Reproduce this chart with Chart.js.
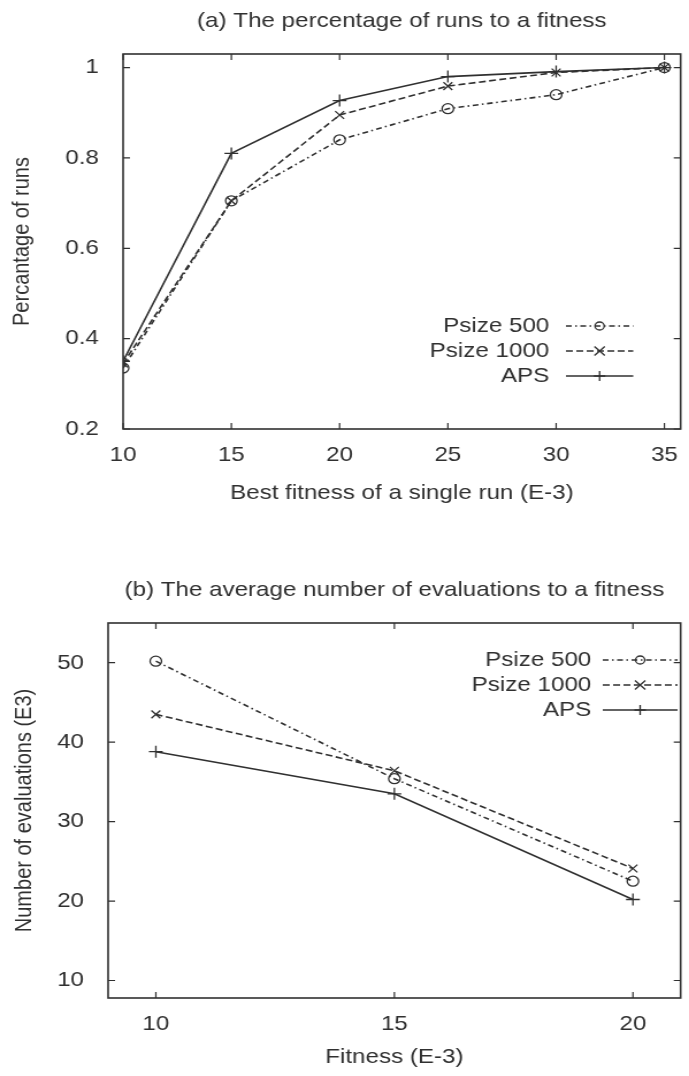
<!DOCTYPE html>
<html>
<head>
<meta charset="utf-8">
<title>Runs and evaluations to a fitness</title>
<script src="https://cdn.jsdelivr.net/npm/chart.js@4.4.1/dist/chart.umd.min.js"></script>
<style>
  html, body { margin: 0; padding: 0; background: #fff; overflow: hidden; }
  /* the scanned figure is a bit wider than tall, so the charts are drawn
     599px wide and stretched sideways to the 689px page */
  .box { position: absolute; left: 0; width: 599px; transform: scaleX(1.1503); transform-origin: 0 0; }
  #boxA { top: 0; height: 540px; }
  #boxB { top: 540px; height: 536px; }
</style>
</head>
<body>
<div class="box" id="boxA"><canvas id="chartA"></canvas></div>
<div class="box" id="boxB"><canvas id="chartB"></canvas></div>
<script>
// (a) percentage of runs reaching a fitness
const fitnessA = [10, 15, 20, 25, 30, 35];
const psize500A = [0.335, 0.705, 0.84, 0.909, 0.94, 1.0];
const psize1000A = [0.345, 0.705, 0.895, 0.959, 0.989, 1.0];
const apsA = [0.35, 0.81, 0.927, 0.98, 0.991, 1.0];
const xTicksA = [10, 15, 20, 25, 30, 35];
const yTicksA = [0.2, 0.4, 0.6, 0.8, 1];

// (b) average number of evaluations (E3) to a fitness
const fitnessB = [10, 15, 20];
const psize500B = [50.2, 35.4, 22.5];
const psize1000B = [43.5, 36.4, 24.1];
const apsB = [38.8, 33.5, 20.2];
const xTicksB = [10, 15, 20];
const yTicksB = [10, 20, 30, 40, 50];

const seriesNames = ["Psize 500", "Psize 1000", "APS"];

const INK = "#303030";
const FONT = "'Liberation Sans', Arial, Helvetica, sans-serif";
const FONT_SIZE = 21;

// line / marker look per series (gnuplot-ish)
const looks = [
  { dash: [5, 3, 1.5, 3], marker: "circle", r: 5 },
  { dash: [6, 3], marker: "crossRot", r: 5.5 },
  { dash: [], marker: "cross", r: 6 },
];

function drawMarker(ctx, type, x, y, r) {
  ctx.beginPath();
  if (type === "circle") {
    ctx.arc(x, y, r, 0, Math.PI * 2);
  } else if (type === "crossRot") {
    ctx.moveTo(x - r, y - r); ctx.lineTo(x + r, y + r);
    ctx.moveTo(x - r, y + r); ctx.lineTo(x + r, y - r);
  } else {
    ctx.moveTo(x - r, y); ctx.lineTo(x + r, y);
    ctx.moveTo(x, y - r); ctx.lineTo(x, y + r);
  }
  ctx.stroke();
}

// plot title centred over the plot area (not the whole canvas)
const headPlugin = {
  id: "head",
  afterDraw(chart, args, opts) {
    const { ctx, chartArea: a } = chart;
    ctx.save();
    ctx.font = FONT_SIZE + "px " + FONT;
    ctx.fillStyle = INK;
    ctx.textAlign = "center";
    ctx.textBaseline = "middle";
    ctx.fillText(opts.text, (a.left + a.right) / 2, opts.y);
    ctx.restore();
  }
};

// box around the plot with inward ticks on all four sides
const framePlugin = {
  id: "frame",
  afterDatasetsDraw(chart) {
    const { ctx, chartArea: a, scales } = chart;
    const len = 6;
    ctx.save();
    ctx.strokeStyle = INK;
    ctx.lineWidth = 1.6;
    ctx.setLineDash([]);
    ctx.strokeRect(a.left, a.top, a.right - a.left, a.bottom - a.top);
    ctx.lineWidth = 1.2;
    ctx.beginPath();
    scales.x.ticks.forEach(t => {
      const px = scales.x.getPixelForValue(t.value);
      ctx.moveTo(px, a.bottom); ctx.lineTo(px, a.bottom - len);
      ctx.moveTo(px, a.top); ctx.lineTo(px, a.top + len);
    });
    scales.y.ticks.forEach(t => {
      const py = scales.y.getPixelForValue(t.value);
      ctx.moveTo(a.left, py); ctx.lineTo(a.left + len, py);
      ctx.moveTo(a.right, py); ctx.lineTo(a.right - len, py);
    });
    ctx.stroke();
    ctx.restore();
  }
};

// gnuplot style key: text right-aligned, then a line sample with its marker
const keyPlugin = {
  id: "gpKey",
  afterDatasetsDraw(chart, args, opts) {
    const { ctx } = chart;
    ctx.save();
    ctx.font = FONT_SIZE + "px " + FONT;
    ctx.fillStyle = INK;
    ctx.strokeStyle = INK;
    ctx.textAlign = "right";
    ctx.textBaseline = "middle";
    chart.data.datasets.forEach((ds, i) => {
      const y = opts.firstRow + i * opts.rowGap;
      const lk = looks[i];
      ctx.fillText(ds.label, opts.textRight, y);
      ctx.lineWidth = 1.5;
      ctx.setLineDash(lk.dash);
      ctx.beginPath();
      ctx.moveTo(opts.lineStart, y);
      ctx.lineTo(opts.lineEnd, y);
      ctx.stroke();
      ctx.setLineDash([]);
      ctx.lineWidth = 1.3;
      drawMarker(ctx, lk.marker, (opts.lineStart + opts.lineEnd) / 2, y, lk.r - 1);
    });
    ctx.restore();
  }
};

function makeSets(xs, seriesList) {
  return seriesList.map((vals, i) => ({
    label: seriesNames[i],
    data: xs.map((x, j) => ({ x: x, y: vals[j] })),
    borderColor: INK,
    borderWidth: 1.6,
    borderDash: looks[i].dash,
    pointStyle: looks[i].marker,
    pointRadius: looks[i].r,
    pointBorderColor: INK,
    pointBorderWidth: 1.3,
    pointBackgroundColor: "rgba(0,0,0,0)",
    tension: 0,
    fill: false,
  }));
}

function makeChart(id, c) {
  const font = { family: FONT, size: FONT_SIZE };
  return new Chart(document.getElementById(id), {
    type: "line",
    data: { datasets: makeSets(c.xs, c.series) },
    plugins: [framePlugin, keyPlugin, headPlugin],
    options: {
      responsive: true,
      maintainAspectRatio: false,
      animation: false,
      devicePixelRatio: 1,
      layout: { padding: { left: 0, right: 1, top: c.areaTop, bottom: 0 } },
      plugins: {
        legend: { display: false },
        tooltip: { enabled: false },
        title: { display: false },
        head: { text: c.title, y: c.titleY },
        gpKey: c.key,
      },
      scales: {
        x: {
          type: "linear",
          min: c.xMin,
          max: c.xMax,
          afterBuildTicks: s => { s.ticks = c.xTicks.map(v => ({ value: v })); },
          afterFit: s => { s.height = c.xHeight; },
          grid: { display: false },
          border: { display: false },
          ticks: { color: INK, font: font, padding: 5.5, callback: v => String(v) },
          title: {
            display: true,
            text: c.xTitle,
            color: INK,
            font: font,
            padding: { top: 0, bottom: c.xTitlePad },
          },
        },
        y: {
          type: "linear",
          min: c.yMin,
          max: c.yMax,
          afterBuildTicks: s => { s.ticks = c.yTicks.map(v => ({ value: v })); },
          afterFit: s => { s.width = c.yWidth; },
          grid: { display: false },
          border: { display: false },
          ticks: { color: INK, font: font, padding: 13, callback: v => String(v) },
          title: {
            display: true,
            text: c.yTitle,
            color: INK,
            font: { family: FONT, size: 20 },
            padding: { top: c.yTitlePad, bottom: 0 },
          },
        },
      },
    },
  });
}

makeChart("chartA", {
  xs: fitnessA,
  series: [psize500A, psize1000A, apsA],
  title: "(a) The percentage of runs to a fitness",
  titleY: 21,
  areaTop: 54,
  xTitle: "Best fitness of a single run (E-3)",
  yTitle: "Percantage of runs",
  xMin: 10, xMax: 35.75, xTicks: xTicksA,
  yMin: 0.2, yMax: 1.03, yTicks: yTicksA,
  xHeight: 111, xTitlePad: 34.4,
  yWidth: 107, yTitlePad: 7,
  key: { textRight: 477.5, lineStart: 492, lineEnd: 550.5, firstRow: 326, rowGap: 25 },
});

makeChart("chartB", {
  xs: fitnessB,
  series: [psize500B, psize1000B, apsB],
  title: "(b) The average number of evaluations to a fitness",
  titleY: 50,
  areaTop: 83,
  xTitle: "Fitness (E-3)",
  yTitle: "Number of evaluations (E3)",
  xMin: 9, xMax: 21, xTicks: xTicksB,
  yMin: 7.8, yMax: 55, yTicks: yTicksB,
  xHeight: 78, xTitlePad: 6.4,
  yWidth: 94, yTitlePad: 9,
  key: { textRight: 514, lineStart: 524, lineEnd: 589, firstRow: 120, rowGap: 25 },
});
</script>
</body>
</html>
